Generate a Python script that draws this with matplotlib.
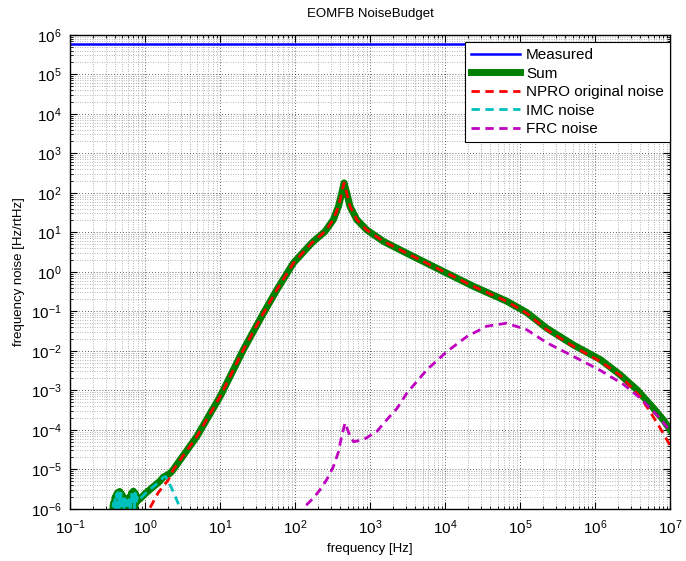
import numpy as np
import matplotlib
matplotlib.use('Agg')
import matplotlib.pyplot as plt
from matplotlib.ticker import LogLocator, NullFormatter

plt.rcParams['font.family'] = ['Liberation Sans', 'DejaVu Sans']
plt.rcParams['mathtext.fontset'] = 'custom'
plt.rcParams['mathtext.rm'] = 'Liberation Sans'
plt.rcParams['mathtext.it'] = 'Liberation Sans:italic'

# measured
f_meas = [0.1, 1e7]
v_meas = [6e5, 6e5]

# NPRO original noise
f_npro = [1.17, 1.5, 2.04, 2.38, 4.9, 10, 20.5, 37.8, 57, 94.8, 158, 175, 251,
          324, 378, 419, 450, 489, 541, 665, 903, 1503, 3083, 8570, 23900,
          66400, 122700, 227000, 514000, 1.17e6, 2.14e6, 3.98e6, 5.37e6,
          6.9e6, 8.5e6, 1e7]
v_npro = [1.07e-6, 2.57e-6, 5.37e-6, 9.8e-6, 6.76e-5, 6.9e-4, 1.07e-2, 8.9e-2,
          0.347, 1.66, 4.8, 5.85, 10.5, 20.9, 44.7, 98, 178, 98, 44.7, 20.9,
          11.5, 5.9, 2.95, 1.12, 0.427, 0.178, 8.9e-2, 3.4e-2, 1.29e-2, 5.4e-3,
          2.4e-3, 6.9e-4, 2.9e-4, 1.35e-4, 6.8e-5, 4.0e-5]

# IMC noise (noisy low frequency part, then smooth)
f_imc = [0.36, 0.38, 0.39, 0.40, 0.41, 0.42, 0.43, 0.44, 0.45, 0.46, 0.47,
         0.48, 0.49, 0.50, 0.52, 0.54, 0.56, 0.58, 0.60, 0.62, 0.64, 0.66,
         0.68, 0.70, 0.72, 0.74, 0.76, 0.78, 0.80, 0.83, 0.86, 1.0, 1.26,
         1.58, 1.75, 1.9, 2.27, 2.64, 2.93, 3.2]
v_imc = [5.0e-7, 1.4e-6, 6.3e-7, 2.0e-6, 7.9e-7, 2.4e-6, 1.0e-6, 2.6e-6,
         7.1e-7, 2.75e-6, 1.26e-6, 2.5e-6, 6.3e-7, 2.2e-6, 7.9e-7, 1.8e-6,
         1.0e-6, 1.6e-6, 7.1e-7, 2.0e-6, 8.9e-7, 2.5e-6, 1.26e-6, 2.8e-6,
         1.0e-6, 2.5e-6, 1.4e-6, 2.0e-6, 1.6e-6, 1.8e-6, 1.8e-6, 2.4e-6,
         3.5e-6, 5.0e-6, 6.3e-6, 6.5e-6, 3.3e-6, 1.7e-6, 1.05e-6, 7.0e-7]

# FRC noise
f_frc = [112, 129, 175, 214, 263, 324, 380, 417, 464, 541, 603, 813, 1230,
         1660, 2290, 3090, 5700, 10500, 19500, 36000, 66000, 123000, 229000,
         514000, 1.17e6, 2.4e6, 4.0e6, 6.6e6, 1e7]
v_frc = [6.3e-7, 1.05e-6, 1.86e-6, 3.0e-6, 5.4e-6, 1.17e-5, 2.8e-5, 6.8e-5,
         1.5e-4, 6.8e-5, 5.0e-5, 5.6e-5, 9.1e-5, 1.78e-4, 3.5e-4, 8.5e-4,
         3.3e-3, 9.5e-3, 2.3e-2, 4.2e-2, 5.0e-2, 3.4e-2, 1.58e-2,
         7.2e-3, 3.2e-3, 1.4e-3, 6.3e-4, 2.4e-4, 9.5e-5]

# Sum
f_sum = [0.36, 0.38, 0.39, 0.40, 0.41, 0.42, 0.43, 0.44, 0.45, 0.46, 0.47,
         0.48, 0.49, 0.50, 0.52, 0.54, 0.56, 0.58, 0.60, 0.62, 0.64, 0.66,
         0.68, 0.70, 0.72, 0.74, 0.76, 0.78, 0.80, 0.83, 0.86, 1.0, 1.26,
         1.58, 1.75, 1.95, 2.15, 2.38, 4.9, 10, 20.5, 37.8, 57, 94.8, 158,
         175, 251, 324, 378, 419, 450, 489, 541, 665, 903, 1503, 3083, 8570,
         23900, 66400, 122700, 227000, 514000, 1.17e6, 2.14e6, 3.63e6, 6.0e6,
         8.1e6, 1e7]
v_sum = [5.0e-7, 1.4e-6, 6.3e-7, 2.0e-6, 7.9e-7, 2.4e-6, 1.0e-6, 2.6e-6,
         7.1e-7, 2.75e-6, 1.26e-6, 2.5e-6, 6.3e-7, 2.2e-6, 7.9e-7, 1.8e-6,
         1.0e-6, 1.6e-6, 7.1e-7, 2.0e-6, 8.9e-7, 2.5e-6, 1.26e-6, 2.8e-6,
         1.0e-6, 2.5e-6, 1.4e-6, 2.0e-6, 1.6e-6, 1.8e-6, 1.8e-6, 2.4e-6,
         3.5e-6, 5.0e-6, 6.3e-6, 7.1e-6, 7.9e-6, 9.8e-6, 6.76e-5, 6.9e-4,
         1.07e-2, 8.9e-2, 0.347, 1.66, 4.8, 5.85, 10.5, 20.9, 44.7, 98, 178,
         98, 44.7, 20.9, 11.5, 5.9, 2.95, 1.12, 0.427, 0.18, 9.3e-2, 3.7e-2,
         1.4e-2, 6.0e-3, 2.5e-3, 1.02e-3, 3.5e-4, 1.78e-4, 1.0e-4]

fig = plt.figure(figsize=(6.86, 5.61), dpi=100)
ax = fig.add_axes([0.102, 0.093, 0.875, 0.845])

ax.loglog(f_meas, v_meas, color='b', lw=1.8, label='Measured')
ax.loglog(f_sum, v_sum, color=(0, 0.5, 0), lw=5, label='Sum')
ax.loglog(f_npro, v_npro, color='r', lw=2, dashes=(3, 2), label='NPRO original noise')
ax.loglog(f_imc, v_imc, color=(0, 0.75, 0.75), lw=2, dashes=(3, 2), label='IMC noise')
ax.loglog(f_frc, v_frc, color=(0.75, 0, 0.75), lw=2, dashes=(3, 2), label='FRC noise')

ax.set_xlim(1e-1, 1e7)
ax.set_ylim(1e-6, 1e6)
ax.set_xticks([10.0**k for k in range(-1, 8)])
ax.set_yticks([10.0**k for k in range(-6, 7)])
for a in (ax.xaxis, ax.yaxis):
    a.set_minor_locator(LogLocator(base=10, subs=np.arange(2, 10), numticks=200))
    a.set_minor_formatter(NullFormatter())
ax.grid(True, which='major', linestyle=(0, (1, 2.5)), color='k', linewidth=0.6, alpha=0.8)
ax.grid(True, which='minor', linestyle=(0, (1, 2.5)), color='k', linewidth=0.5, alpha=0.55)
ax.tick_params(which='both', direction='in', top=True, right=True, labelsize=11)
ax.tick_params(which='major', length=5, width=0.8)
ax.tick_params(which='minor', length=2.5, width=0.6)
ax.tick_params(axis='x', pad=7)
ax.tick_params(axis='y', pad=6)
for s in ax.spines.values():
    s.set_linewidth(1.0)

ax.set_title('EOMFB NoiseBudget', fontsize=9.5, pad=13)
ax.set_xlabel('frequency [Hz]', fontsize=9.5)
ax.set_ylabel('frequency noise [Hz/rtHz]', fontsize=9.5)

leg = ax.legend(loc='upper right', bbox_to_anchor=(1.0, 0.985), borderaxespad=0,
                fontsize=11, handlelength=3.2, labelspacing=0.3, fancybox=False,
                framealpha=1, edgecolor='k', borderpad=0.4, handletextpad=0.4)
leg.get_frame().set_linewidth(0.8)

fig.savefig('out.png', dpi=100)
